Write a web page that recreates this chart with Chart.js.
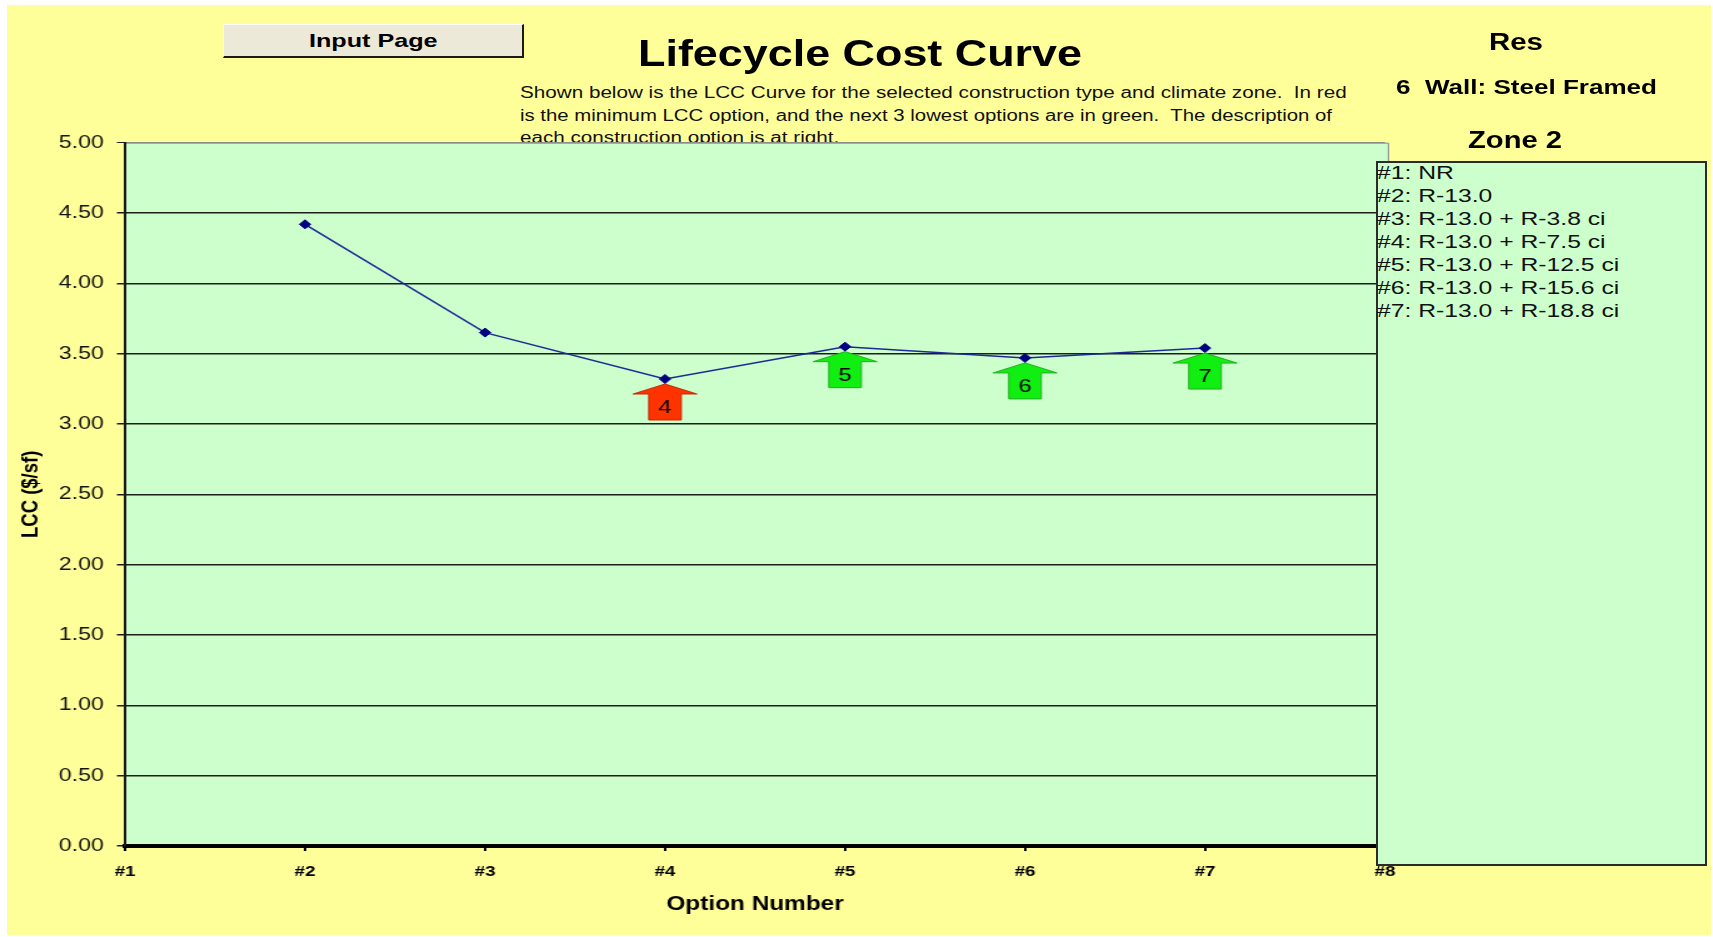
<!DOCTYPE html>
<html>
<head>
<meta charset="utf-8">
<title>Lifecycle Cost Curve</title>
<script src="https://cdn.jsdelivr.net/npm/chart.js@4.4.1/dist/chart.umd.min.js"></script>
<style>
  html, body { margin: 0; padding: 0; background: #ffffff; width: 1713px; height: 937px; overflow: hidden; }
  #stage { position: relative; width: 1713px; height: 937px; font-family: 'Liberation Sans', Arial, sans-serif; }
  #sheet { position: absolute; left: 7px; top: 5px; width: 1704px; height: 930px; background: #FFFF99; z-index: 0; }
  #lcc { position: absolute; left: 0; top: 0; transform-origin: 0 0; z-index: 2; }
  .txt { position: absolute; white-space: pre; line-height: 1; transform-origin: 0 50%; color: #000; }
  .desc { z-index: 1; color: #111; }
  .front { z-index: 4; }
  #btn { position: absolute; left: 223px; top: 24px; width: 301px; height: 34px; box-sizing: border-box;
         background: #ECE9D8; border-top: 1px solid #ffffff; border-left: 1px solid #ffffff;
         border-right: 2px solid #1a1a1a; border-bottom: 2px solid #1a1a1a; z-index: 3; }
  #options { position: absolute; left: 1376px; top: 161px; width: 331px; height: 705px; box-sizing: border-box;
             background: #CCFFCC; border: 2px solid #2b2b2b; z-index: 3; }
</style>
</head>
<body>
<div id="stage">
  <div id="sheet"></div>
  <div id="btn"></div>
  <canvas id="lcc"></canvas>
  <div id="options"></div>
</div>
<script>
// ---- chart data ----
const optionLabels = ['#1', '#2', '#3', '#4', '#5', '#6', '#7', '#8'];
const lccValues = [null, 4.42, 3.65, 3.32, 3.55, 3.47, 3.54, null];
const yTickValues = [0, 0.5, 1, 1.5, 2, 2.5, 3, 3.5, 4, 4.5, 5];
const optionDescriptions = [
  '#1: NR',
  '#2: R-13.0',
  '#3: R-13.0 + R-3.8 ci',
  '#4: R-13.0 + R-7.5 ci',
  '#5: R-13.0 + R-12.5 ci',
  '#6: R-13.0 + R-15.6 ci',
  '#7: R-13.0 + R-18.8 ci'
];
const descriptionLines = [
  'Shown below is the LCC Curve for the selected construction type and climate zone.  In red',
  'is the minimum LCC option, and the next 3 lowest options are in green.  The description of',
  'each construction option is at right.'
];

const FONT = "'Liberation Sans', Arial, sans-serif";
const stage = document.getElementById('stage');

// Absolutely placed text, stretched horizontally to a given width.
function placeText(text, o) {
  const el = document.createElement('div');
  el.className = 'txt ' + (o.cls || 'front');
  el.textContent = text;
  el.style.fontFamily = FONT;
  el.style.fontSize = o.size + 'px';
  el.style.fontWeight = o.bold ? 'bold' : 'normal';
  if (o.color) el.style.color = o.color;
  stage.appendChild(el);
  const natural = el.getBoundingClientRect().width;
  const sx = o.scale != null ? o.scale : o.width / natural;
  const w = natural * sx;
  const left = o.left != null ? o.left : o.cx - w / 2;
  el.style.left = left + 'px';
  el.style.top = (o.cy - o.size * 0.49) + 'px';
  el.style.transform = 'scaleX(' + sx + ')';
  return sx;
}

// Header block
placeText('Input Page', { size: 19, bold: true, cx: 373, cy: 40, width: 128.6 });
placeText('Lifecycle Cost Curve', { size: 36, bold: true, left: 638, cy: 54, width: 444 });
const descScale = placeText(descriptionLines[0], { cls: 'desc', size: 16, left: 520, cy: 93.3, width: 826.7 });
placeText(descriptionLines[1], { cls: 'desc', size: 16, left: 520, cy: 115.5, width: 812 });
placeText(descriptionLines[2], { cls: 'desc', size: 16, left: 520, cy: 137.8, scale: descScale });
placeText('Res', { size: 23.5, bold: true, cx: 1516, cy: 43, width: 54 });
placeText('6  Wall: Steel Framed', { size: 21, bold: true, left: 1396, cy: 86, width: 261 });
placeText('Zone 2', { size: 24, bold: true, cx: 1514.7, cy: 139.3, width: 94 });

// Option descriptions box
const probe = document.createElement('span');
probe.style.cssText = 'position:absolute;visibility:hidden;white-space:pre;font:18px ' + FONT;
probe.textContent = optionDescriptions[optionDescriptions.length - 1];
stage.appendChild(probe);
const optScale = 242.3 / probe.getBoundingClientRect().width;
stage.removeChild(probe);
optionDescriptions.forEach((line, i) => {
  placeText(line, { size: 18, left: 1377, cy: 172.5 + 23 * i, scale: optScale, color: '#111' });
});

// ---- chart ----
const CANVAS_W = 1370, CANVAS_H = 937;
const SX = 1713 / CANVAS_W;
const canvas = document.getElementById('lcc');
canvas.width = CANVAS_W;
canvas.height = CANVAS_H;
canvas.style.width = CANVAS_W + 'px';
canvas.style.height = CANVAS_H + 'px';
canvas.style.transform = 'scaleX(' + SX + ')';

// Light green plot area with a grey frame on top and right
const plotBackground = {
  id: 'plotBackground',
  beforeDraw(chart) {
    const { ctx, chartArea: a } = chart;
    const right = a.right + 3.2;
    ctx.save();
    ctx.fillStyle = '#CCFFCC';
    ctx.fillRect(a.left, a.top, right - a.left, a.bottom - a.top);
    ctx.strokeStyle = '#8c8c8c';
    ctx.lineWidth = 1;
    ctx.beginPath();
    ctx.moveTo(a.left, a.top + 0.5);
    ctx.lineTo(right - 0.5, a.top + 0.5);
    ctx.lineTo(right - 0.5, a.bottom);
    ctx.stroke();
    ctx.restore();
  }
};

// Up arrows under the cheapest option (red) and the next three (green)
const optionArrows = {
  id: 'optionArrows',
  beforeDatasetsDraw(chart) {
    const { ctx } = chart;
    const meta = chart.getDatasetMeta(0);
    const ranked = lccValues
      .map((v, i) => ({ v, i }))
      .filter(d => d.v != null)
      .sort((a, b) => a.v - b.v)
      .slice(0, 4);
    ranked.forEach((d, rank) => {
      const pt = meta.data[d.i];
      const x = pt.x, tip = pt.y + 5;
      const headH = 10, headW = 25.5, shaftW = 13, total = 36;
      const fill = rank === 0 ? '#FF3300' : '#11EE11';
      const edge = rank === 0 ? '#c42a08' : '#1fb01f';
      ctx.save();
      ctx.beginPath();
      ctx.moveTo(x, tip);
      ctx.lineTo(x + headW, tip + headH);
      ctx.lineTo(x + shaftW, tip + headH);
      ctx.lineTo(x + shaftW, tip + total);
      ctx.lineTo(x - shaftW, tip + total);
      ctx.lineTo(x - shaftW, tip + headH);
      ctx.lineTo(x - headW, tip + headH);
      ctx.closePath();
      ctx.fillStyle = fill;
      ctx.fill();
      ctx.strokeStyle = edge;
      ctx.lineWidth = 1;
      ctx.stroke();
      ctx.fillStyle = '#000';
      ctx.font = '19px ' + FONT;
      ctx.textAlign = 'center';
      ctx.textBaseline = 'middle';
      ctx.fillText(optionLabels[d.i].replace('#', ''), x, tip + 24);
      ctx.restore();
    });
  }
};

new Chart(canvas, {
  type: 'line',
  data: {
    labels: optionLabels,
    datasets: [{
      data: lccValues,
      borderColor: '#1c2a96',
      borderWidth: 1.5,
      tension: 0,
      spanGaps: false,
      pointStyle: 'rectRot',
      pointRadius: 4.5,
      pointBackgroundColor: '#000080',
      pointBorderColor: '#000080',
      pointBorderWidth: 1,
      clip: false
    }]
  },
  options: {
    responsive: false,
    animation: false,
    devicePixelRatio: 1,
    layout: { padding: { left: 0, top: 142.7, right: 262.3, bottom: 0 } },
    plugins: {
      legend: { display: false },
      tooltip: { enabled: false },
      title: { display: false }
    },
    scales: {
      x: {
        type: 'category',
        offset: false,
        grid: { drawOnChartArea: false, drawTicks: true, tickLength: 5, color: '#000', lineWidth: 2 },
        border: { display: true, color: '#000', width: 4 },
        ticks: {
          font: { family: FONT, size: 15, weight: 'bold' },
          color: '#000',
          padding: 12,
          maxRotation: 0,
          autoSkip: false
        },
        title: {
          display: true,
          text: 'Option Number',
          font: { family: FONT, size: 19.5, weight: 'bold' },
          color: '#000',
          padding: { top: 0, bottom: 21 }
        },
        afterFit(scale) { scale.height = 91; }
      },
      y: {
        min: 0,
        max: 5,
        afterBuildTicks(scale) { scale.ticks = yTickValues.map(v => ({ value: v })); },
        grid: {
          color: c => (c.tick && c.tick.value === 5 ? '#8c8c8c' : '#1e1e1e'),
          lineWidth: c => (c.tick && c.tick.value === 5 ? 1 : 1.5),
          tickColor: '#1a1a1a',
          tickLength: 6.5,
          drawTicks: true
        },
        border: { display: true, color: '#1a1a1a', width: 2 },
        ticks: {
          callback: v => Number(v).toFixed(2),
          font: { family: FONT, size: 18.5 },
          color: '#111',
          padding: 10.5
        },
        title: {
          display: true,
          text: 'LCC ($/sf)',
          font: { family: FONT, size: 18.5, weight: 'bold' },
          color: '#000',
          padding: { top: 13.4, bottom: 0 }
        },
        afterFit(scale) { scale.width = 100; }
      }
    }
  },
  plugins: [plotBackground, optionArrows]
});
</script>
</body>
</html>
